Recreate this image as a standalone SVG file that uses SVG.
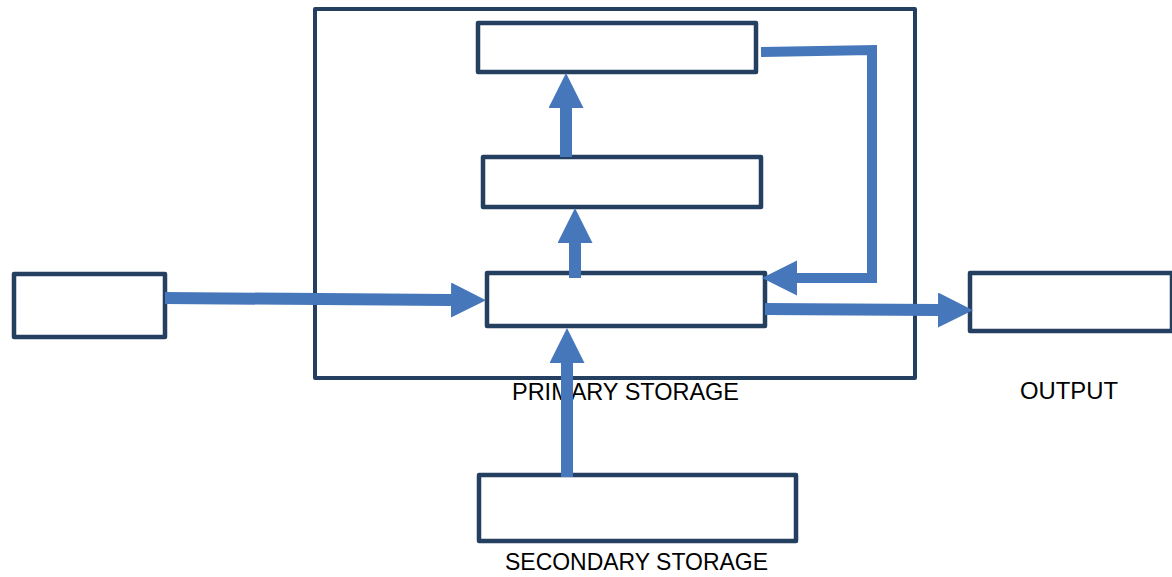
<svg xmlns="http://www.w3.org/2000/svg" width="1172" height="577" viewBox="0 0 1172 577">
<defs>
<style>
.box{fill:#ffffff;stroke:#243F60;stroke-width:4.5;stroke-linejoin:round}
.frame{fill:none;stroke:#243F60;stroke-width:4;stroke-linejoin:round}
.conn{fill:none;stroke:#4677BA;stroke-width:12;stroke-linecap:butt}
.thin{stroke-width:10;stroke-linejoin:miter}
.lbl{font-family:"Liberation Sans",Arial,sans-serif;font-size:24px;fill:#000000}
</style>
<marker id="ah" markerUnits="userSpaceOnUse" markerWidth="36" markerHeight="36" refX="0" refY="17.5" orient="auto">
<path d="M0,0 L35,17.5 L0,35 Z" fill="#4677BA"/>
</marker>
</defs>
<rect width="1172" height="577" fill="#ffffff"/>
<g id="primary-storage">
<rect class="frame" x="315" y="9" width="600" height="369"/>
<text class="lbl" x="512" y="400" textLength="227" lengthAdjust="spacingAndGlyphs">PRIMARY STORAGE</text>
</g>
<g id="top-box"><rect class="box" x="478" y="23" width="278" height="49"/></g>
<g id="middle-box"><rect class="box" x="483" y="157" width="278" height="50"/></g>
<g id="main-box"><rect class="box" x="487" y="273" width="278" height="53"/></g>
<g id="input-box"><rect class="box" x="14" y="274" width="151" height="63"/></g>
<g id="output-box">
<rect class="box" x="970" y="273" width="202" height="58"/>
<text class="lbl" x="1020" y="399" textLength="98" lengthAdjust="spacingAndGlyphs">OUTPUT</text>
</g>
<g id="secondary-storage">
<rect class="box" x="479" y="475" width="317" height="66"/>
<text class="lbl" x="505" y="570" textLength="263" lengthAdjust="spacingAndGlyphs">SECONDARY STORAGE</text>
</g>
<g id="connectors">
<path class="conn" d="M165,298 L451,300" marker-end="url(#ah)"/>
<path class="conn" d="M566,157 L566,108" marker-end="url(#ah)"/>
<path class="conn" d="M575,278 L575,243" marker-end="url(#ah)"/>
<path class="conn" d="M567,477 L567,363" marker-end="url(#ah)"/>
<path class="conn" d="M765,309 L938,310" marker-end="url(#ah)"/>
<path class="conn thin" d="M761,52 L872,50 L872,278 L797,278" marker-end="url(#ah)"/>
</g>
</svg>
